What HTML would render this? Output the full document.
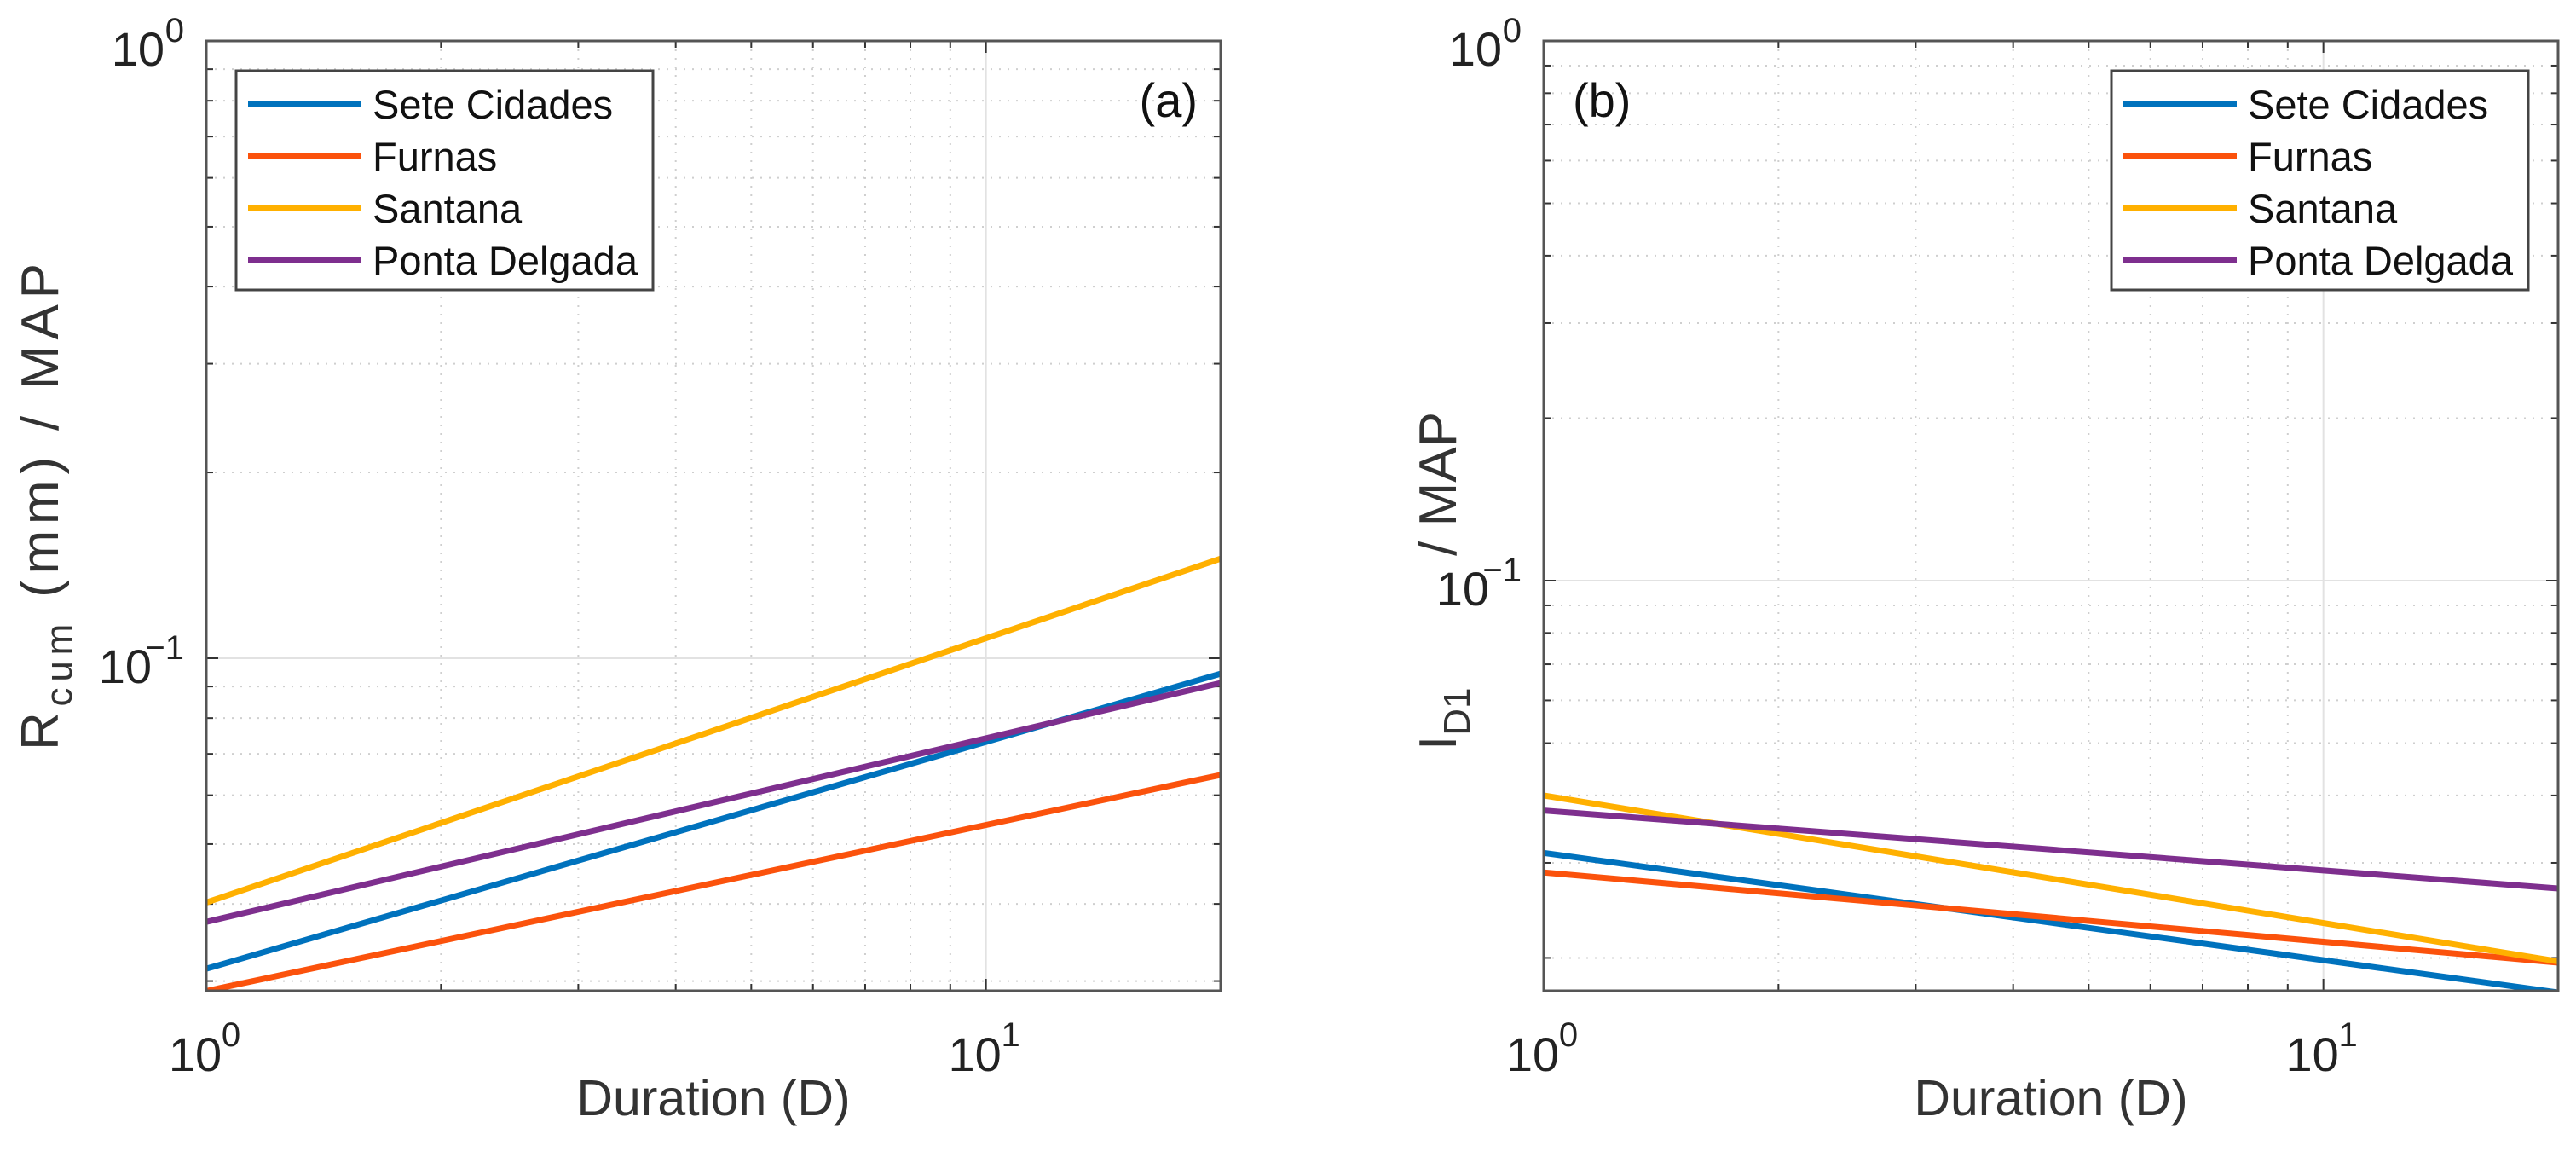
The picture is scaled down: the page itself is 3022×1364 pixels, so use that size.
<!DOCTYPE html>
<html><head><meta charset="utf-8"><style>
html,body{margin:0;padding:0;background:#fff;}
svg{display:block;font-family:"Liberation Sans",Arial,sans-serif;}
</style></head><body>
<svg id="chart" width="3022" height="1364" viewBox="0 0 3022 1364" xmlns="http://www.w3.org/2000/svg">
<g id="panelA"></g>
<g id="panelB"></g>
</svg>
<script>
// ---- data ----
const seriesNames = ["Sete Cidades", "Furnas", "Santana", "Ponta Delgada"];
const seriesColors = ["#0072BD", "#FB520C", "#FFB000", "#7E2F8E"];
const durations = [1, 20];
// Panel (a): Rcum / MAP at D=1 and D=20
const aSete = [0.0314, 0.0944];
const aFurnas = [0.0289, 0.0647];
const aSantana = [0.0402, 0.145];
const aPonta = [0.0374, 0.0912];
// Panel (b): I_D1 / MAP at D=1 and D=20
const bSete = [0.0313, 0.01726];
const bFurnas = [0.0288, 0.0196];
const bSantana = [0.0400, 0.0197];
const bPonta = [0.0375, 0.0269];
const xTickLabels = ["10", "10"];
const xTickExps = ["0", "1"];
const yTickExps = ["0", "-1"];

const NS = "http://www.w3.org/2000/svg";
function mk(tag, attrs, parent) {
  const e = document.createElementNS(NS, tag);
  for (const k in attrs) e.setAttribute(k, attrs[k]);
  if (parent) parent.appendChild(e);
  return e;
}

function drawPanel(g, cfg) {
  const L = cfg.left, R = cfg.left + 1190, T = 48, B = 1162;
  const xDec = (R - L) / Math.log10(20);
  const xs = v => L + Math.log10(v) * xDec;
  const ys = v => T + (0 - Math.log10(v)) * cfg.yDec;
  const yMin = Math.pow(10, -(B - T) / cfg.yDec);

  const grid = mk("g", {}, g);
  
  
  for (let k = 2; k <= 20; k++) {
    if (k === 10) continue;
    const v = k < 10 ? k : (k % 10 === 0 ? k : null);
    if (v === null || v > 20) continue;
    const x = xs(v);
    if (x >= R - 1) continue;
    mk("line", {x1: x, x2: x, y1: T, y2: B, stroke: "#cfcfcf", "stroke-width": 2, "stroke-dasharray": "2 8"}, grid);
    mk("line", {x1: x, x2: x, y1: B, y2: B - 8, stroke: "#333", "stroke-width": 2}, grid);
    mk("line", {x1: x, x2: x, y1: T, y2: T + 8, stroke: "#333", "stroke-width": 2}, grid);
  }
  for (const dec of [0.1, 0.01]) {
    for (let k = 2; k <= 9; k++) {
      const v = k * dec;
      if (v < yMin) continue;
      const y = ys(v);
      mk("line", {x1: L, x2: R, y1: y, y2: y, stroke: "#cfcfcf", "stroke-width": 2, "stroke-dasharray": "2 8"}, grid);
      mk("line", {x1: L, x2: L + 8, y1: y, y2: y, stroke: "#333", "stroke-width": 2}, grid);
      mk("line", {x1: R, x2: R - 8, y1: y, y2: y, stroke: "#333", "stroke-width": 2}, grid);
    }
  }
  const x10 = xs(10);
  mk("line", {x1: x10, x2: x10, y1: T, y2: B, stroke: "#e2e2e2", "stroke-width": 2}, grid);
  mk("line", {x1: x10, x2: x10, y1: B, y2: B - 14, stroke: "#333", "stroke-width": 2}, grid);
  mk("line", {x1: x10, x2: x10, y1: T, y2: T + 14, stroke: "#333", "stroke-width": 2}, grid);
  const y01 = ys(0.1);
  mk("line", {x1: L, x2: R, y1: y01, y2: y01, stroke: "#e2e2e2", "stroke-width": 2}, grid);
  mk("line", {x1: L, x2: L + 14, y1: y01, y2: y01, stroke: "#333", "stroke-width": 2}, grid);
  mk("line", {x1: R, x2: R - 14, y1: y01, y2: y01, stroke: "#333", "stroke-width": 2}, grid);

  const lines = mk("g", {"clip-path": "url(#" + cfg.clip + ")"}, g);
  const cp = mk("clipPath", {id: cfg.clip}, g);
  mk("rect", {x: L, y: T, width: R - L, height: B - T}, cp);
  cfg.series.forEach((vals, i) => {
    const pts = durations.map((d, j) => xs(d).toFixed(1) + "," + ys(vals[j]).toFixed(1)).join(" ");
    const pl = mk("polyline", {points: pts, fill: "none", stroke: seriesColors[i], "stroke-width": 7}, lines);
    
    
  });

  const box = mk("rect", {x: L, y: T, width: R - L, height: B - T, fill: "none", stroke: "#555", "stroke-width": 3}, g);
  
  

  [1, 10].forEach((v, i) => {
    const t = mk("text", {x: xs(v) - 13, y: 1256, "font-size": 56, fill: "#222", "text-anchor": "middle"}, g);
    
    
    t.textContent = xTickLabels[i];
    const s = mk("text", {x: xs(v) + 29, y: 1227, "font-size": 40, fill: "#222", "text-anchor": "middle"}, g);
    s.textContent = xTickExps[i];
  });
  [1, 0.1].forEach((v, i) => {
    const y = ys(v);
    const exp = yTickExps[i];
    const sw = exp.length > 1 ? 38 : 23;
    const t = mk("text", {x: L - 26 - sw, y: y + 29, "font-size": 56, fill: "#222", "text-anchor": "end"}, g);
    
    
    t.textContent = "10";
    const s = mk("text", {x: L - 26, y: y + 1, "font-size": 40, fill: "#222", "text-anchor": "end"}, g);
    s.textContent = exp.replace("-", "\u2212");
  });
  const xt = mk("text", {x: (L + R) / 2, y: 1308, "font-size": 59, fill: "#333", "text-anchor": "middle"}, g);
  
  
  xt.textContent = "Duration (D)";

  const yt = mk("text", {x: 0, y: 0, "font-size": 62, fill: "#333", "text-anchor": "start", transform: "translate(" + cfg.yTitleX + "," + cfg.yTitleBottom + ") rotate(-90)"}, g);
  
  
  const t1 = mk("tspan", {}, yt); t1.textContent = cfg.yMain;
  const t2 = mk("tspan", {"font-size": 44, dy: 16}, yt); t2.textContent = cfg.ySub;
  if (cfg.joined) {
    const t3 = mk("tspan", {dy: -16}, yt); t3.textContent = " " + cfg.yRest;
    yt.setAttribute("textLength", cfg.yTitleBottom - cfg.yTitleTop);
    yt.setAttribute("lengthAdjust", "spacing");
  } else {
    const yt2 = mk("text", {x: 0, y: 0, "font-size": 62, fill: "#333", "text-anchor": "end", transform: "translate(" + cfg.yTitleX + "," + cfg.yTitleTop + ") rotate(-90)"}, g);
    
    
    yt2.textContent = cfg.yRest;
  }

  const pl = mk("text", {x: cfg.labelX, y: 137, "font-size": 56, fill: "#111", "text-anchor": cfg.labelAnchor}, g);
  
  
  pl.textContent = cfg.label;

  const lg = mk("g", {}, g);
  
  
  mk("rect", {x: cfg.legX, y: 83, width: 489, height: 257, fill: "#fff", stroke: "#444", "stroke-width": 3}, lg);
  seriesNames.forEach((n, i) => {
    const cy = 122 + i * 61;
    const e = mk("g", {}, lg);
    
    
    mk("line", {x1: cfg.legX + 14, x2: cfg.legX + 147, y1: cy, y2: cy, stroke: seriesColors[i], "stroke-width": 7}, e);
    const tx = mk("text", {x: cfg.legX + 160, y: cy + 17, "font-size": 47, fill: "#111"}, e);
    tx.textContent = n;
  });
}

drawPanel(document.getElementById("panelA"), {
  left: 242, yDec: 724, clip: "clipA", joined: true,
  series: [aSete, aFurnas, aSantana, aPonta],
  yTitleX: 68, yTitleBottom: 880, yTitleTop: 309, yMain: "R", ySub: "cum", yRest: "(mm) / MAP",
  label: "(a)", labelX: 1405, labelAnchor: "end", legX: 277
});
drawPanel(document.getElementById("panelB"), {
  left: 1811, yDec: 633, clip: "clipB", joined: false,
  series: [bSete, bFurnas, bSantana, bPonta],
  yTitleX: 1708, yTitleBottom: 880, yTitleTop: 483, yMain: "I", ySub: "D1", yRest: "/ MAP",
  label: "(b)", labelX: 1845, labelAnchor: "start", legX: 2477
});
</script>
</body></html>
